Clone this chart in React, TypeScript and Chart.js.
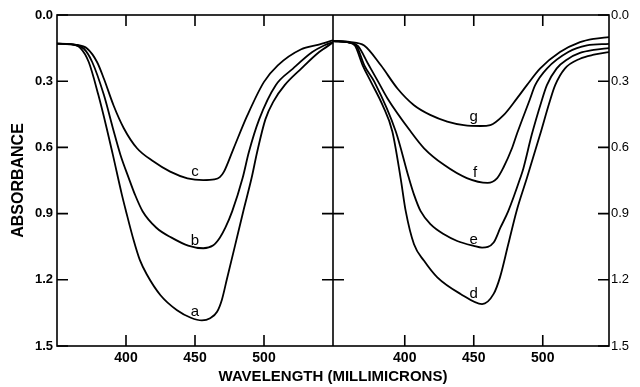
import React, { useEffect, useRef } from "react";
import { Chart, registerables } from "chart.js";

Chart.register(...registerables);

// ---- data (wavelength in millimicrons, absorbance) ----
// left panel
const wlA = [350, 360, 367, 373, 380, 386, 390.5, 397, 400, 405.5, 410, 415, 425, 437, 447, 455, 461, 466, 469.5, 473, 479, 485, 491, 495, 501, 507, 515, 527, 540, 550];
const absA = [0.13, 0.132, 0.15, 0.213, 0.363, 0.513, 0.634, 0.814, 0.889, 1.02, 1.11, 1.175, 1.27, 1.338, 1.372, 1.384, 1.374, 1.345, 1.29, 1.2, 1.045, 0.889, 0.739, 0.622, 0.473, 0.39, 0.318, 0.243, 0.168, 0.125];

const wlB = [350, 362, 369.5, 375.5, 384, 390.5, 396, 402, 406.5, 412, 422, 433, 445, 456, 463, 468, 472, 477, 484.5, 489, 496.5, 508.5, 521, 535, 543.5, 550];
const absB = [0.13, 0.135, 0.153, 0.213, 0.363, 0.513, 0.634, 0.739, 0.814, 0.889, 0.964, 1.009, 1.045, 1.057, 1.045, 1.009, 0.964, 0.889, 0.739, 0.622, 0.473, 0.318, 0.243, 0.168, 0.138, 0.123];

const wlC = [350, 364, 372, 379, 384, 391, 398.4, 408, 420, 432, 444.5, 456, 464, 468, 471, 478, 488, 500, 510, 527, 539, 550];
const absC = [0.13, 0.135, 0.153, 0.213, 0.289, 0.41, 0.513, 0.604, 0.664, 0.71, 0.74, 0.748, 0.745, 0.735, 0.71, 0.604, 0.454, 0.303, 0.228, 0.155, 0.135, 0.115];

// right panel
const wlD = [348, 360, 364, 369.5, 375.5, 384, 391, 397, 400.7, 406.7, 414, 423.6, 440.4, 456, 464.4, 469, 475, 481, 488.5, 498, 505, 509, 516, 527, 537, 548];
const absD = [0.118, 0.125, 0.14, 0.228, 0.303, 0.41, 0.528, 0.739, 0.889, 1.039, 1.114, 1.189, 1.264, 1.31, 1.264, 1.189, 1.039, 0.889, 0.739, 0.543, 0.393, 0.318, 0.243, 0.198, 0.18, 0.168];

const wlE = [348, 360, 365, 370.7, 378, 393.5, 403, 406.7, 411.5, 418.8, 428.4, 438, 450, 456, 464.4, 469.3, 475, 483.7, 486, 492, 499, 503, 510, 518, 527, 537, 548];
const absE = [0.118, 0.125, 0.14, 0.228, 0.303, 0.528, 0.739, 0.814, 0.889, 0.949, 0.994, 1.024, 1.046, 1.054, 1.031, 0.964, 0.889, 0.739, 0.694, 0.543, 0.393, 0.318, 0.243, 0.2, 0.172, 0.158, 0.15];

const wlF = [348, 360, 366, 374, 380.8, 387.5, 404.3, 414, 428.4, 445, 460, 467, 471.6, 477.7, 481.5, 490.5, 494.5, 503, 518.5, 532, 548];
const absF = [0.118, 0.125, 0.14, 0.228, 0.303, 0.378, 0.528, 0.604, 0.679, 0.739, 0.761, 0.739, 0.69, 0.604, 0.535, 0.385, 0.318, 0.243, 0.168, 0.138, 0.131];

const wlG = [348, 360, 370.6, 382.7, 394.7, 406.7, 418.8, 430.8, 442.8, 455, 462, 471.6, 481.3, 488.5, 498, 512.5, 527, 537, 548];
const absG = [0.118, 0.122, 0.138, 0.228, 0.333, 0.409, 0.454, 0.483, 0.499, 0.503, 0.499, 0.454, 0.378, 0.318, 0.243, 0.168, 0.123, 0.108, 0.1];

// curve letters
const curveNames = ["a", "b", "c", "d", "e", "f", "g"];
const curvePanels = [0, 0, 0, 1, 1, 1, 1];
const labelWl = [450, 450, 450, 450, 450, 451, 450];
const labelAbs = [1.347, 1.024, 0.709, 1.265, 1.021, 0.715, 0.46];

const xTickLabels = [400, 450, 500];
const yTickValues = [0, 0.3, 0.6, 0.9, 1.2, 1.5];
const panelStart = 350;
const panelSplit = 550; // boundary between the two panels
const panelEnd = 750;
const rightPanelOffset = 202; // wavelength shift of right panel on the shared axis

const FONT = "'Liberation Sans', Arial, sans-serif";

const curves: [number[], number[], number][] = [
  [wlA, absA, 0],
  [wlB, absB, 0],
  [wlC, absC, 0],
  [wlD, absD, 1],
  [wlE, absE, 1],
  [wlF, absF, 1],
  [wlG, absG, 1],
];

const toX = (wl: number, panel: number) => (panel === 1 ? wl + rightPanelOffset : wl);

const framePlugin = {
  id: "frame",
  afterDatasetsDraw(chart: any) {
    const { ctx, chartArea, scales } = chart;
    const { left, right, top, bottom } = chartArea;
    const xs = scales.x;
    const ys = scales.y;
    ctx.save();
    ctx.strokeStyle = "#000";
    ctx.lineWidth = 1.6;
    ctx.strokeRect(left, top, right - left, bottom - top);
    const mid = xs.getPixelForValue(panelSplit);
    ctx.beginPath();
    ctx.moveTo(mid, top);
    ctx.lineTo(mid, bottom);
    ctx.stroke();
    const tl = 11;
    ctx.beginPath();
    yTickValues.forEach((v) => {
      const py = ys.getPixelForValue(v);
      ctx.moveTo(left, py);
      ctx.lineTo(left + tl, py);
      ctx.moveTo(right - tl, py);
      ctx.lineTo(right, py);
      if (v > 0 && v < 1.5) {
        ctx.moveTo(mid - tl, py);
        ctx.lineTo(mid + tl, py);
      }
    });
    [0, 1].forEach((p) => {
      xTickLabels.forEach((t) => {
        const px = xs.getPixelForValue(toX(t, p));
        ctx.moveTo(px, bottom);
        ctx.lineTo(px, bottom - tl);
        ctx.moveTo(px, top);
        ctx.lineTo(px, top + tl);
      });
    });
    ctx.stroke();
    ctx.fillStyle = "#000";
    ctx.font = `15px ${FONT}`;
    ctx.textAlign = "center";
    ctx.textBaseline = "middle";
    curveNames.forEach((n, i) => {
      const px = xs.getPixelForValue(toX(labelWl[i], curvePanels[i]));
      const py = ys.getPixelForValue(labelAbs[i]);
      ctx.fillText(n, px, py);
    });
    ctx.restore();
  },
};

export default function App() {
  const ref = useRef<HTMLCanvasElement | null>(null);
  useEffect(() => {
    if (!ref.current) return;
    const yScaleBase = (pos: "left" | "right", width: number, pad: number, weight: string) => ({
      type: "linear" as const,
      position: pos,
      reverse: true,
      min: 0,
      max: 1.5,
      afterBuildTicks: (s: any) => {
        s.ticks = yTickValues.map((v) => ({ value: v }));
      },
      afterFit: (s: any) => {
        s.width = width;
      },
      grid: { display: false, drawTicks: false },
      border: { display: false },
      ticks: {
        padding: pad,
        color: "#000",
        font: { family: FONT, size: 13, weight },
        callback: (v: any) => Number(v).toFixed(1),
      },
    });
    const chart = new Chart(ref.current, {
      type: "line",
      data: {
        datasets: curves.map(([wl, ab, p]) => ({
          data: wl.map((w, i) => ({ x: toX(w, p), y: ab[i] })),
          borderColor: "#000",
          borderWidth: 1.8,
          pointRadius: 0,
          fill: false,
          cubicInterpolationMode: "monotone" as const,
          yAxisID: "y",
        })),
      },
      plugins: [framePlugin],
      options: {
        responsive: false,
        animation: false,
        events: [],
        layout: { padding: { top: 15, left: 0, right: 0, bottom: 0 } },
        plugins: { legend: { display: false }, tooltip: { enabled: false } },
        scales: {
          x: {
            type: "linear",
            position: "bottom",
            min: panelStart,
            max: panelEnd,
            afterBuildTicks: (s: any) => {
              s.ticks = [0, 1].flatMap((p) => xTickLabels.map((t) => ({ value: toX(t, p) })));
            },
            afterFit: (s: any) => {
              s.height = 41;
            },
            grid: { display: false, drawTicks: false },
            border: { display: false },
            ticks: {
              padding: 4,
              maxRotation: 0,
              autoSkip: false,
              color: "#000",
              font: { family: FONT, size: 14, weight: "bold" },
              callback: (v: any) => String(v > panelSplit ? v - rightPanelOffset : v),
            },
            title: {
              display: true,
              text: "WAVELENGTH (MILLIMICRONS)",
              color: "#000",
              font: { family: FONT, size: 15, weight: "bold" },
              padding: { top: 0, bottom: 1 },
            },
          },
          y: {
            ...yScaleBase("left", 57, 4, "bold"),
            title: {
              display: true,
              text: "ABSORBANCE",
              color: "#000",
              font: { family: FONT, size: 16, weight: "bold" },
              padding: { top: 9, bottom: 0 },
            },
          },
          y2: yScaleBase("right", 31, 2, "normal"),
        },
      },
    } as any);
    return () => chart.destroy();
  }, []);
  return (
    <div style={{ position: "absolute", left: 0, top: 0, width: 640, height: 387, background: "#fff" }}>
      <canvas ref={ref} width={640} height={387} />
    </div>
  );
}
